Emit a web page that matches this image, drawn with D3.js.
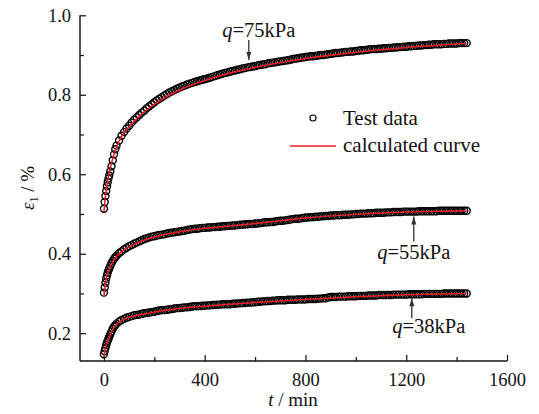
<!DOCTYPE html>
<html>
<head>
<meta charset="utf-8">
<script src="https://cdn.jsdelivr.net/npm/d3@7"></script>
<style>
  html, body { margin: 0; padding: 0; background: #fff; }
  svg { display: block; }
</style>
</head>
<body>
<svg id="chart" width="539" height="414"></svg>
<script>
// ---- data ----
const testTimes = [0,3,6,9,12,15,18,21,25,30,35,40,45,50,60,70,80,90,
  100,110,120,130,140,150,160,170,180,190,
  200,210,220,230,240,250,260,270,280,290,
  300,310,320,330,340,350,360,370,380,390,
  400,410,420,430,440,450,460,470,480,490,
  500,510,520,530,540,550,560,570,580,590,
  600,610,620,630,640,650,660,670,680,690,
  700,710,720,730,740,750,760,770,780,790,
  800,810,820,830,840,850,860,870,880,890,
  900,910,920,930,940,950,960,970,980,990,
  1000,1010,1020,1030,1040,1050,1060,1070,1080,1090,
  1100,1110,1120,1130,1140,1150,1160,1170,1180,1190,
  1200,1210,1220,1230,1240,1250,1260,1270,1280,1290,
  1300,1310,1320,1330,1340,1350,1360,1370,1380,1390,
  1400,1410,1420,1430,1440];

const test75 = [0.513,0.530,0.545,0.558,0.570,0.580,0.589,0.597,0.607,0.620,0.635,0.650,0.663,0.672,0.685,0.697,0.706,0.715,
  0.722,0.730,0.737,0.743,0.749,0.755,0.760,0.766,0.771,0.776,
  0.781,0.786,0.790,0.794,0.798,0.802,0.806,0.809,0.812,0.815,
  0.818,0.821,0.823,0.826,0.828,0.830,0.832,0.834,0.836,0.838,
  0.839,0.841,0.843,0.845,0.847,0.849,0.851,0.853,0.855,0.856,
  0.858,0.860,0.861,0.863,0.864,0.866,0.867,0.869,0.870,0.871,
  0.872,0.874,0.875,0.876,0.877,0.879,0.880,0.881,0.882,0.883,
  0.884,0.885,0.886,0.887,0.888,0.890,0.891,0.892,0.893,0.894,
  0.895,0.896,0.897,0.897,0.898,0.899,0.900,0.900,0.901,0.902,
  0.903,0.904,0.905,0.905,0.906,0.907,0.908,0.908,0.909,0.909,
  0.910,0.911,0.912,0.912,0.913,0.914,0.915,0.915,0.915,0.916,
  0.916,0.917,0.917,0.918,0.918,0.919,0.919,0.920,0.920,0.921,
  0.921,0.922,0.922,0.923,0.923,0.924,0.924,0.925,0.925,0.926,
  0.926,0.927,0.927,0.927,0.927,0.928,0.928,0.929,0.929,0.929,
  0.929,0.930,0.930,0.930,0.930];

const test55 = [0.302,0.315,0.327,0.337,0.345,0.352,0.358,0.363,0.369,0.376,0.382,0.387,0.391,0.395,0.401,0.406,0.411,0.415,
  0.419,0.422,0.425,0.428,0.431,0.434,0.437,0.439,0.441,0.443,
  0.444,0.446,0.447,0.448,0.449,0.451,0.452,0.453,0.454,0.455,
  0.456,0.457,0.458,0.460,0.461,0.462,0.463,0.463,0.464,0.465,
  0.465,0.466,0.466,0.467,0.467,0.468,0.468,0.469,0.469,0.470,
  0.470,0.471,0.471,0.472,0.473,0.473,0.474,0.474,0.475,0.475,
  0.476,0.476,0.477,0.478,0.479,0.479,0.480,0.480,0.481,0.482,
  0.483,0.483,0.484,0.485,0.486,0.487,0.488,0.488,0.489,0.490,
  0.491,0.491,0.492,0.492,0.493,0.493,0.494,0.494,0.495,0.495,
  0.496,0.496,0.497,0.497,0.497,0.498,0.498,0.498,0.499,0.499,
  0.500,0.500,0.501,0.501,0.501,0.502,0.502,0.502,0.503,0.503,
  0.503,0.503,0.504,0.504,0.504,0.505,0.505,0.505,0.505,0.506,
  0.506,0.506,0.506,0.506,0.506,0.507,0.507,0.507,0.507,0.507,
  0.507,0.507,0.507,0.508,0.508,0.508,0.508,0.508,0.508,0.508,
  0.508,0.508,0.508,0.508,0.508];

const test38 = [0.147,0.155,0.163,0.170,0.176,0.181,0.186,0.191,0.197,0.204,0.211,0.216,0.220,0.224,0.229,0.233,0.236,0.239,
  0.241,0.243,0.245,0.246,0.247,0.249,0.250,0.251,0.252,0.253,
  0.254,0.256,0.257,0.258,0.258,0.259,0.260,0.261,0.262,0.263,
  0.263,0.264,0.265,0.265,0.266,0.267,0.268,0.268,0.268,0.269,
  0.269,0.270,0.270,0.271,0.271,0.272,0.272,0.273,0.273,0.273,
  0.273,0.274,0.274,0.275,0.275,0.276,0.276,0.277,0.277,0.278,
  0.278,0.279,0.279,0.280,0.280,0.281,0.281,0.282,0.282,0.283,
  0.283,0.283,0.283,0.284,0.284,0.284,0.284,0.285,0.285,0.285,
  0.285,0.286,0.286,0.286,0.286,0.287,0.287,0.288,0.288,0.290,
  0.291,0.291,0.291,0.292,0.292,0.292,0.292,0.293,0.293,0.293,
  0.293,0.294,0.294,0.294,0.294,0.295,0.295,0.295,0.295,0.296,
  0.296,0.296,0.296,0.296,0.296,0.297,0.297,0.297,0.297,0.297,
  0.297,0.298,0.298,0.298,0.298,0.298,0.298,0.299,0.299,0.299,
  0.299,0.299,0.299,0.299,0.299,0.300,0.300,0.300,0.300,0.300,
  0.300,0.300,0.300,0.300,0.300];

const calcTimes = [0,5,10,20,30,45,60,80,100,150,200,300,400,500,600,800,1000,1200,1440];
const calc75 = [0.505,0.540,0.565,0.600,0.628,0.660,0.683,0.705,0.720,0.752,0.776,0.812,0.836,0.855,0.869,0.891,0.907,0.919,0.929];
const calc55 = [0.292,0.322,0.340,0.360,0.374,0.389,0.399,0.410,0.417,0.432,0.442,0.455,0.464,0.470,0.476,0.490,0.499,0.505,0.508];
const calc38 = [0.140,0.160,0.172,0.188,0.203,0.219,0.228,0.236,0.240,0.247,0.253,0.262,0.268,0.273,0.277,0.285,0.292,0.297,0.300];

const xMajorTicks = [0, 400, 800, 1200, 1600];
const xMinorTicks = [200, 600, 1000, 1400];
const yMajorTicks = [0.2, 0.4, 0.6, 0.8, 1.0];
const yMinorTicks = [0.3, 0.5, 0.7, 0.9];

const legendLabels = ["Test data", "calculated curve"];
const annotationLabels = ["75kPa", "55kPa", "38kPa"];
const annotationTimes = [575, 1230, 1222];
const annotationValues = [0.88, 0.506, 0.298];

// ---- layout / styles ----
const FONT = '"Liberation Serif", "Times New Roman", serif';
const svg = d3.select("#chart");
const x = d3.scaleLinear().domain([-95, 1600]).range([80, 507]);
const y = d3.scaleLinear().domain([0.13, 1.0]).range([361, 15.3]);
const axisColor = "#111";

const gx = svg.append("g").attr("transform", "translate(0,361)");
gx.call(d3.axisBottom(x).tickValues(xMajorTicks).tickSizeInner(-6).tickSizeOuter(0).tickPadding(12).tickFormat(d3.format("d")));
const gxm = svg.append("g").attr("transform", "translate(0,361)");
gxm.call(d3.axisBottom(x).tickValues(xMinorTicks).tickSizeInner(-4).tickSizeOuter(0).tickFormat(""));
gxm.select(".domain").remove();

const gy = svg.append("g").attr("transform", "translate(80,0)");
gy.call(d3.axisLeft(y).tickValues(yMajorTicks).tickSizeInner(-6).tickSizeOuter(0).tickPadding(9).tickFormat(d3.format(".1f")));
const gym = svg.append("g").attr("transform", "translate(80,0)");
gym.call(d3.axisLeft(y).tickValues(yMinorTicks).tickSizeInner(-4).tickSizeOuter(0).tickFormat(""));
gym.select(".domain").remove();

svg.selectAll(".domain").attr("stroke", axisColor).attr("stroke-width", 1.4);
svg.selectAll(".tick line").attr("stroke", axisColor).attr("stroke-width", 1.2);
svg.selectAll(".tick text").style("font-family", FONT).style("font-size", "18.5px").attr("fill", "#111");
gx.selectAll(".tick text").attr("dy", "0.71em");

gy.select(".domain").attr("d", `M0,${y(1.0)}V361`);
gx.select(".domain").attr("d", `M80,0H${x(1600)}`);

// axis titles
const xt = svg.append("text").attr("x", 293).attr("y", 406).attr("text-anchor", "middle")
  .style("font-family", FONT).style("font-size", "19px").attr("fill", "#111");
xt.append("tspan").attr("font-style", "italic").text("t");
xt.append("tspan").text(" / min");

const yt = svg.append("text")
  .attr("transform", "translate(34,188) rotate(-90)")
  .attr("text-anchor", "middle").style("font-family", FONT).style("font-size", "19px").attr("fill", "#111");
yt.append("tspan").attr("font-style", "italic").text("ε");
yt.append("tspan").style("font-size", "12px").attr("dy", 4).text("1");
yt.append("tspan").attr("dy", -4).text(" / %");

// data marks
const series = [
  { test: test75, calc: calc75 },
  { test: test55, calc: calc55 },
  { test: test38, calc: calc38 }
];
const line = d3.line().x(d => x(d[0])).y(d => y(d[1])).curve(d3.curveMonotoneX);

series.forEach(s => {
  const pts = testTimes.map((t, i) => [t, s.test[i]]).filter(d => d[1] != null);
  svg.append("g").selectAll("circle").data(pts).join("circle")
    .attr("cx", d => x(d[0])).attr("cy", d => y(d[1])).attr("r", 3.5)
    .attr("fill", "none").attr("stroke", "#000").attr("stroke-width", 1.4);
});
series.forEach(s => {
  const cpts = calcTimes.map((t, i) => [t, s.calc[i]]);
  svg.append("path").datum(cpts).attr("d", line)
    .attr("fill", "none").attr("stroke", "#ee1c24").attr("stroke-width", 1.5);
});

// annotations (arrow geometry in pixels)
const annLayout = [
  { dir: "down", len: 20, gap: 3, textDx: 10, textDy: -3 },
  { dir: "up", len: 25, gap: 5, textDx: 0, textDy: 17 },
  { dir: "up", len: 20, gap: 4, textDx: 17, textDy: 15 }
];
annotationLabels.forEach((lab, i) => {
  const L = annLayout[i];
  const ax = x(annotationTimes[i]), ay = y(annotationValues[i]);
  const s = L.dir === "down" ? -1 : 1;
  const tipY = ay + s * L.gap, tailY = tipY + s * L.len;
  svg.append("line").attr("x1", ax).attr("x2", ax).attr("y1", tailY).attr("y2", tipY)
    .attr("stroke", "#333").attr("stroke-width", 1.3);
  svg.append("path").attr("d", `M${ax},${tipY}L${ax - 2.5},${tipY + s * 8}L${ax + 2.5},${tipY + s * 8}Z`).attr("fill", "#333");
  const tx = svg.append("text").attr("x", ax + L.textDx).attr("y", tailY + L.textDy).attr("text-anchor", "middle")
    .style("font-family", FONT).style("font-size", "20.5px").attr("fill", "#111");
  tx.append("tspan").attr("font-style", "italic").text("q");
  tx.append("tspan").text("=" + lab);
});

// legend
const lg = svg.append("g");
lg.append("circle").attr("cx", 313).attr("cy", 118).attr("r", 3).attr("fill", "none").attr("stroke", "#000").attr("stroke-width", 1.2);
lg.append("line").attr("x1", 290).attr("x2", 336).attr("y1", 146).attr("y2", 146).attr("stroke", "#ee1c24").attr("stroke-width", 1.5);
lg.append("text").attr("x", 343).attr("y", 125).style("font-family", FONT).style("font-size", "21px").attr("fill", "#111").text(legendLabels[0]);
lg.append("text").attr("x", 343).attr("y", 152).style("font-family", FONT).style("font-size", "21px").attr("fill", "#111").text(legendLabels[1]);
</script>
</body>
</html>
